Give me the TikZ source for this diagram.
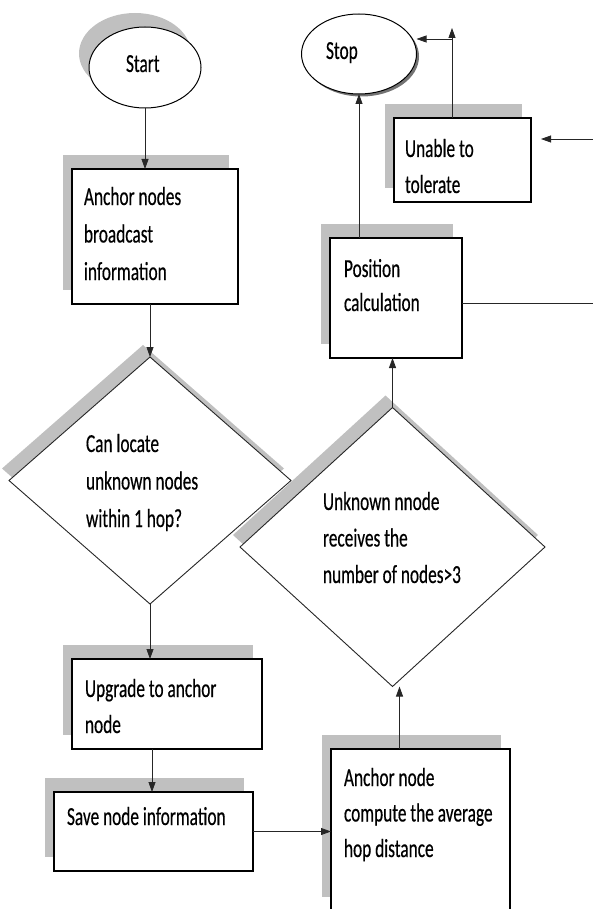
\documentclass[tikz,border=0pt]{standalone}
\usepackage{fontspec}
\setmainfont{Carlito}[FakeStretch=0.665,FakeBold=0.4]
\usetikzlibrary{shapes.geometric,shadows,arrows.meta}
\definecolor{shadecol}{HTML}{C0C0C0}
\newcommand\fstrut{\rule{0pt}{20pt}}
\begin{document}
\begin{tikzpicture}[x=1pt,y=-1pt,
  every node/.style={inner sep=0pt, outer sep=0pt},
  box/.style={rectangle, draw=black, line width=1.1pt, fill=white, anchor=north west,
    general shadow={fill=shadecol, shadow xshift=-9pt, shadow yshift=14pt}},
  dia/.style={diamond, draw=black!85, line width=0.9pt, fill=white,
    general shadow={fill=shadecol, shadow xshift=-7pt, shadow yshift=12pt}},
  txt/.style={anchor=north west, align=left, font=\fontsize{26}{#1}\selectfont},
  txt/.default=36.5,
  one/.style={anchor=base west, font=\fontsize{26}{30}\selectfont},
  arr/.style={draw=black!85, line width=0.8pt, -{Triangle[length=10pt,width=7pt]}},
  conn/.style={draw=black!85, line width=0.8pt}
]
\useasboundingbox (0,0) rectangle (593,909);
\clip (0,0) rectangle (593,909);

% terminals
\node[ellipse, draw=black, line width=1pt, fill=white, minimum width=112pt, minimum height=81pt,
  general shadow={fill=shadecol, shadow xshift=-10pt, shadow yshift=14pt}] (start) at (145,67.5) {};
\node[one] (tstart) at (126,72) {Start};
\node[ellipse, draw=black, line width=1pt, fill=white, minimum width=115pt, minimum height=80pt,
  general shadow={fill=black!55, shadow xshift=2.5pt, shadow yshift=-2.5pt}] (stop) at (359,54) {};
\node[one] (tstop) at (326,59) {Stop};

% boxes
\node[box, minimum width=166pt, minimum height=135pt] (anchor1) at (72,169) {};
\node[txt=37.5] (t1) at (84,185) {\fstrut Anchor nodes\\broadcast\\information};

\node[box, minimum width=132pt, minimum height=120pt] (pos) at (330,238) {};
\node[txt=34] (tpos) at (344,257) {\fstrut Position\\calculation};

\node[box, minimum width=137pt, minimum height=84pt] (unable) at (394,118) {};
\node[txt=36] (tunable) at (405,137) {\fstrut Unable to\\tolerate};

\node[box, minimum width=190pt, minimum height=90pt] (upgrade) at (72,659) {};
\node[txt=36] (tupg) at (85,677) {\fstrut Upgrade to anchor\\node};

\node[box, minimum width=199pt, minimum height=79pt] (save) at (54,792) {};
\node[txt] (tsave) at (67,805) {\fstrut Save node information};

\node[box, minimum width=179pt, minimum height=162pt] (anchor2) at (331,749) {};
\node[txt=35.5] (tanc2) at (344,766) {\fstrut Anchor node\\compute the average\\hop distance};

% decisions
\node[dia, minimum width=282pt, minimum height=247pt] (d1) at (150,480.5) {};
\node[txt=37.5] (td1) at (86,432) {\fstrut Can locate\\unknown nodes\\within 1 hop?};
\node[dia, minimum width=305pt, minimum height=279pt] (d2) at (392.5,547) {};
\node[txt=36.5] (td2) at (323,490) {\fstrut Unknown nnode\\receives the\\number of nodes>3};

% helper coordinates
\coordinate (r1) at (593,303);
\coordinate (r2) at (593,139);
\coordinate (ue) at ([xshift=10pt]unable.east);
\coordinate (u1) at (452,28);
\coordinate (u2) at (452,39);
\coordinate (d2b) at ([xshift=7pt]d2.south);

% connectors
\draw[arr] (start.south) -- (start.south |- anchor1.north);
\draw[arr] (anchor1.south -| d1.north) -- (d1.north);
\draw[arr] (d1.south) -- (d1.south |- upgrade.north);
\draw[arr] ([xshift=2pt]d1.south |- upgrade.south) -- ([xshift=2pt]d1.south |- save.north);
\draw[arr] (save.east) -- (save.east -| anchor2.west);
\draw[arr] (d2b |- anchor2.north) -- (d2b);
\draw[arr] (d2.north) -- (d2.north |- pos.south);
\draw[arr] (pos.north -| stop.south) -- (stop.south);
\draw[conn] (r1 -| pos.east) -- (r1);
\draw[arr] (r2) -- (r2 -| ue);
\draw[arr] (unable.north -| u1) -- (u1);
\draw[arr] (u2) -- (u2 -| stop.east);
\end{tikzpicture}
\end{document}
